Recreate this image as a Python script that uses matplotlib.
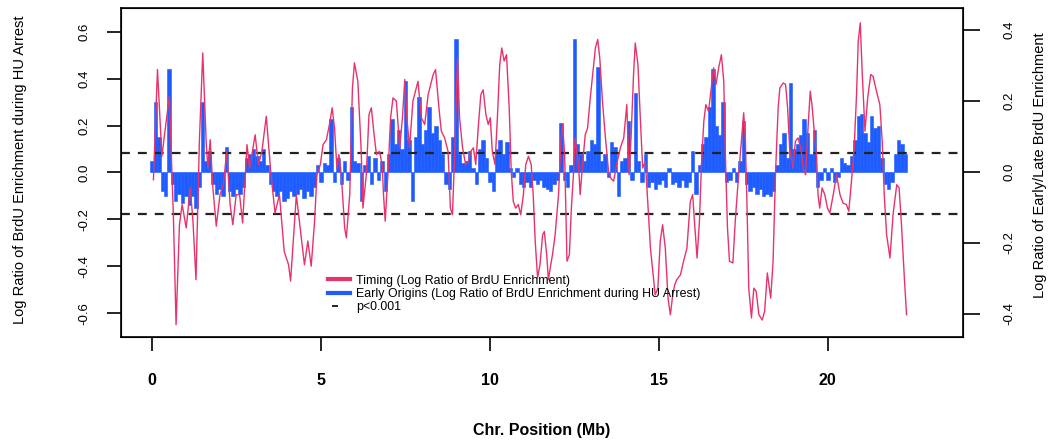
import numpy as np
import matplotlib
matplotlib.use("Agg")
import matplotlib.pyplot as plt
from matplotlib.lines import Line2D

plt.rcParams['font.family'] = ['Liberation Sans', 'DejaVu Sans']
plt.rcParams['axes.unicode_minus'] = False

# Early origins: log ratio of BrdU enrichment during HU arrest (left axis), one bar per 0.1 Mb
blue_start = 0.0
blue_step = 0.1
blue_vals = [
    0.05, 0.30, 0.15, -0.08, -0.10, 0.44, -0.05, -0.12, -0.09, -0.13,
    -0.10, -0.14, -0.10, -0.15, -0.06, 0.30, 0.05, 0.09, -0.05, -0.09,
    -0.07, -0.10, 0.11, -0.08, -0.10, -0.07, -0.09, -0.06, 0.06, 0.08,
    0.10, 0.07, 0.05, 0.10, 0.03, -0.05, -0.08, -0.10, -0.08, -0.12,
    -0.11, -0.08, -0.10, -0.09, -0.07, -0.11, -0.08, -0.10, -0.06, 0.03,
    -0.04, 0.04, 0.03, 0.23, -0.04, 0.06, -0.05, 0.05, -0.03, 0.28,
    0.05, 0.04, -0.12, 0.03, 0.07, -0.05, 0.06, -0.03, 0.05, -0.08,
    0.08, 0.23, 0.12, 0.18, 0.10, 0.39, 0.14, -0.12, 0.15, 0.32,
    0.12, 0.18, 0.28, 0.17, 0.20, 0.14, 0.08, -0.05, -0.07, 0.15,
    0.57, 0.08, 0.04, 0.05, 0.09, 0.02, -0.05, 0.10, 0.14, 0.06,
    -0.04, -0.08, 0.10, 0.14, 0.08, 0.13, 0.02, -0.02, 0.02, -0.05,
    -0.06, -0.04, -0.06, -0.03, -0.05, -0.03, -0.06, -0.07, -0.08, -0.05,
    -0.03, 0.21, -0.03, -0.06, 0.03, 0.57, 0.12, 0.08, 0.05, 0.09,
    0.14, 0.12, 0.45, 0.05, 0.08, -0.02, 0.13, 0.11, -0.10, 0.05,
    0.06, 0.22, -0.03, 0.34, 0.05, -0.04, 0.08, -0.06, -0.04, -0.07,
    -0.05, -0.03, -0.06, 0.02, -0.05, -0.04, -0.06, -0.03, -0.06, -0.04,
    0.09, -0.09, 0.03, 0.12, 0.15, 0.28, 0.44, 0.20, 0.16, 0.30,
    -0.04, -0.03, 0.02, -0.04, 0.05, 0.22, -0.05, -0.08, -0.06, -0.09,
    -0.07, -0.10, -0.09, -0.10, -0.08, 0.03, 0.12, 0.17, 0.06, 0.38,
    0.10, 0.12, 0.16, 0.23, 0.17, 0.08, 0.18, -0.06, -0.03, 0.02,
    -0.03, 0.02, -0.04, -0.02, 0.06, 0.04, 0.03, 0.07, 0.14, 0.24,
    0.25, 0.17, 0.13, 0.24, 0.19, 0.20, 0.06, -0.05, -0.07, -0.04,
    0.08, 0.14, 0.12, 0.08,
]

# Timing: log ratio of early/late BrdU enrichment (right axis)
red_pos = [
    0.04, 0.16, 0.29, 0.51, 0.63, 0.71, 0.81, 0.89, 1.01, 1.13,
    1.21, 1.30, 1.40, 1.50, 1.60, 1.65, 1.72, 1.80, 1.90, 2.01,
    2.11, 2.21, 2.31, 2.39, 2.49, 2.59, 2.68, 2.81, 2.89, 3.05,
    3.15, 3.25, 3.38, 3.52, 3.64, 3.77, 3.91, 4.04, 4.10, 4.27,
    4.51, 4.61, 4.71, 4.81, 4.88, 4.98, 5.06, 5.16, 5.25, 5.33,
    5.40, 5.47, 5.53, 5.60, 5.70, 5.75, 5.85, 5.93, 5.99, 6.09,
    6.19, 6.24, 6.34, 6.42, 6.49, 6.56, 6.64, 6.73, 6.81, 6.85,
    6.90, 6.98, 7.06, 7.13, 7.23, 7.33, 7.41, 7.48, 7.55, 7.62,
    7.72, 7.87, 7.97, 8.07, 8.17, 8.32, 8.39, 8.49, 8.56, 8.66,
    8.76, 8.83, 8.89, 8.95, 9.04, 9.10, 9.19, 9.28, 9.36, 9.43,
    9.51, 9.58, 9.66, 9.73, 9.80, 9.88, 9.95, 10.01, 10.07, 10.15,
    10.22, 10.29, 10.35, 10.42, 10.49, 10.57, 10.63, 10.69, 10.76, 10.84,
    10.91, 10.99, 11.06, 11.14, 11.22, 11.28, 11.34, 11.41, 11.48, 11.56,
    11.61, 11.68, 11.73, 11.80, 11.85, 11.93, 12.03, 12.10, 12.15, 12.21,
    12.28, 12.35, 12.41, 12.47, 12.52, 12.62, 12.67, 12.74, 12.82, 12.89,
    12.96, 13.04, 13.12, 13.19, 13.25, 13.33, 13.41, 13.51, 13.57, 13.66,
    13.75, 13.86, 13.96, 14.05, 14.12, 14.18, 14.25, 14.30, 14.38, 14.45,
    14.52, 14.60, 14.68, 14.75, 14.82, 14.89, 14.97, 15.04, 15.11, 15.19,
    15.27, 15.34, 15.41, 15.47, 15.53, 15.64, 15.73, 15.83, 15.93, 16.00,
    16.06, 16.13, 16.20, 16.26, 16.33, 16.39, 16.47, 16.55, 16.62, 16.69,
    16.77, 16.85, 16.92, 16.97, 17.03, 17.09, 17.19, 17.26, 17.36, 17.44,
    17.51, 17.56, 17.61, 17.66, 17.74, 17.81, 17.88, 17.96, 18.06, 18.13,
    18.21, 18.31, 18.38, 18.45, 18.53, 18.58, 18.68, 18.75, 18.81, 18.87,
    18.97, 19.04, 19.12, 19.20, 19.27, 19.34, 19.42, 19.48, 19.53, 19.59,
    19.67, 19.71, 19.76, 19.83, 19.91, 19.99, 20.06, 20.16, 20.26, 20.36,
    20.45, 20.55, 20.62, 20.70, 20.78, 20.85, 20.90, 20.96, 21.02, 21.10,
    21.18, 21.27, 21.34, 21.44, 21.54, 21.61, 21.67, 21.74, 21.84, 21.93,
    22.04, 22.11, 22.18, 22.26, 22.33,
]
red_vals = [
    -0.022, 0.289, 0.044, 0.214, -0.121, -0.431, -0.149, -0.092, -0.158, -0.045,
    -0.139, -0.304, 0.087, 0.336, 0.087, 0.011, 0.091, -0.045, -0.153, -0.064,
    -0.036, 0.058, -0.092, -0.149, -0.064, -0.064, -0.144, 0.077, 0.011, 0.105,
    0.021, 0.058, 0.157, -0.008, -0.116, -0.064, -0.224, -0.262, -0.308, -0.065,
    -0.262, -0.195, -0.266, -0.138, -0.008, 0.021, 0.077, 0.091, 0.134, 0.181,
    0.124, 0.011, 0.049, -0.008, -0.158, -0.186, -0.064, 0.237, 0.308, 0.256,
    0.058, -0.102, -0.008, 0.162, 0.181, 0.115, 0.049, 0.058, 0.021, -0.064,
    -0.139, -0.008, 0.153, 0.209, 0.200, 0.068, 0.153, 0.261, 0.143, 0.068,
    0.200, 0.256, 0.153, 0.134, 0.218, 0.275, 0.289, 0.181, 0.115, 0.096,
    0.058, -0.102, -0.121, 0.034, 0.322, 0.153, 0.068, 0.021, 0.030, 0.058,
    0.068, 0.021, 0.134, 0.218, 0.232, 0.162, 0.134, 0.153, 0.058, 0.021,
    0.153, 0.303, 0.350, 0.313, 0.331, 0.181, 0.002, -0.083, -0.102, -0.092,
    -0.121, -0.064, 0.021, 0.044, 0.021, -0.064, -0.196, -0.299, -0.262, -0.177,
    -0.168, -0.234, -0.304, -0.262, -0.234, -0.177, -0.064, 0.087, 0.134, 0.049,
    -0.252, -0.234, -0.102, -0.008, 0.096, 0.021, -0.064, 0.021, 0.105, 0.124,
    0.200, 0.275, 0.350, 0.374, 0.322, 0.200, 0.105, 0.002, -0.017, -0.026,
    0.021, 0.068, 0.096, 0.190, -0.008, 0.105, 0.275, 0.364, 0.303, 0.153,
    0.011, 0.030, -0.102, -0.215, -0.281, -0.347, -0.328, -0.196, -0.149, -0.215,
    -0.356, -0.403, -0.347, -0.318, -0.304, -0.290, -0.252, -0.215, -0.083, -0.064,
    -0.149, -0.243, -0.139, 0.021, 0.143, 0.190, 0.171, 0.237, 0.294, 0.247,
    0.294, 0.331, 0.256, 0.040, -0.158, -0.252, -0.257, -0.139, -0.008, 0.087,
    0.167, 0.087, -0.102, -0.328, -0.412, -0.328, -0.337, -0.403, -0.418, -0.393,
    -0.285, -0.356, -0.252, -0.008, 0.181, 0.237, 0.251, 0.247, 0.181, 0.068,
    0.011, 0.087, 0.096, 0.068, 0.011, -0.008, 0.134, 0.228, 0.190, 0.124,
    0.040, -0.064, -0.102, -0.045, -0.064, -0.102, -0.116, -0.064, -0.008, -0.064,
    -0.088, -0.092, -0.111, -0.026, 0.068, 0.218, 0.369, 0.421, 0.275, 0.115,
    0.209, 0.275, 0.270, 0.228, 0.190, 0.087, -0.064, -0.177, -0.243, -0.121,
    -0.036, -0.045, -0.149, -0.290, -0.403,
]

# p<0.001 thresholds (left axis units)
pval_levels = [0.083, -0.177]

x_ticks = [0, 5, 10, 15, 20]
left_ticks = [-0.6, -0.4, -0.2, 0.0, 0.2, 0.4, 0.6]
right_ticks = [-0.4, -0.2, 0.0, 0.2, 0.4]

red_color = '#e8336a'
blue_color = '#1e5cff'

fig = plt.figure(figsize=(10.53, 4.40), dpi=100)
ax = fig.add_axes([0.1149, 0.234, 0.7996, 0.748])
ax2 = ax.twinx()

blue_pos = blue_start + blue_step * np.arange(len(blue_vals))
ax.bar(blue_pos, blue_vals, width=blue_step, color=blue_color,
       edgecolor=blue_color, linewidth=0.4)
for lvl in pval_levels:
    ax.axhline(lvl, color='#222222', lw=1.6, dashes=(4, 3.6), zorder=5)

ax2.plot(red_pos, red_vals, color=red_color, lw=1.0)

ax.set_xlim(-0.92, 24.0)
ax.set_ylim(-0.702, 0.702)
ax2.set_ylim(-0.466, 0.463)

ax.set_xticks(x_ticks)
ax.set_yticks(left_ticks)
ax2.set_yticks(right_ticks)
ax.set_yticklabels(['%.1f' % t for t in left_ticks], rotation=90, va='center')
ax2.set_yticklabels(['%.1f' % t for t in right_ticks], rotation=90, va='center')

ax.tick_params(axis='x', length=10, width=1.2, pad=16, labelsize=11.5)
ax.tick_params(axis='y', length=10, width=1.2, pad=12, labelsize=9.5)
ax2.tick_params(axis='y', length=12, width=1.2, pad=17, labelsize=9.5)
for lab in ax.get_xticklabels():
    lab.set_fontweight('bold')

for sp in ax2.spines.values():
    sp.set_linewidth(1.2)

ax.set_xlabel('Chr. Position (Mb)', fontsize=11.5, fontweight='bold')
ax.xaxis.set_label_coords(0.5, -0.283)
ax.xaxis.label.set_va('center')
ax.set_ylabel('Log Ratio of BrdU Enrichment during HU Arrest', fontsize=10.5)
ax.yaxis.set_label_coords(-0.12, 0.508)
ax.yaxis.label.set_va('center')
ax2.set_ylabel('Log Ratio of Early/Late BrdU Enrichment', fontsize=10.5, rotation=90)
ax2.yaxis.set_label_coords(1.0915, 0.523)
ax2.yaxis.label.set_va('center')

handles = [
    Line2D([], [], color=red_color, lw=3),
    Line2D([], [], color=blue_color, lw=3),
    Line2D([], [], color='black', lw=1.2, linestyle=(31.2, (3.6, 30))),
]
labels = [
    'Timing (Log Ratio of BrdU Enrichment)',
    'Early Origins (Log Ratio of BrdU Enrichment during HU Arrest)',
    'p<0.001',
]
ax2.legend(handles, labels, loc='upper left', bbox_to_anchor=(0.2458, 0.19),
           frameon=False, fontsize=8.9, handlelength=1.8, handletextpad=0.45,
           labelspacing=0.12, borderpad=0, borderaxespad=0)

fig.savefig('out.png', dpi=100)
